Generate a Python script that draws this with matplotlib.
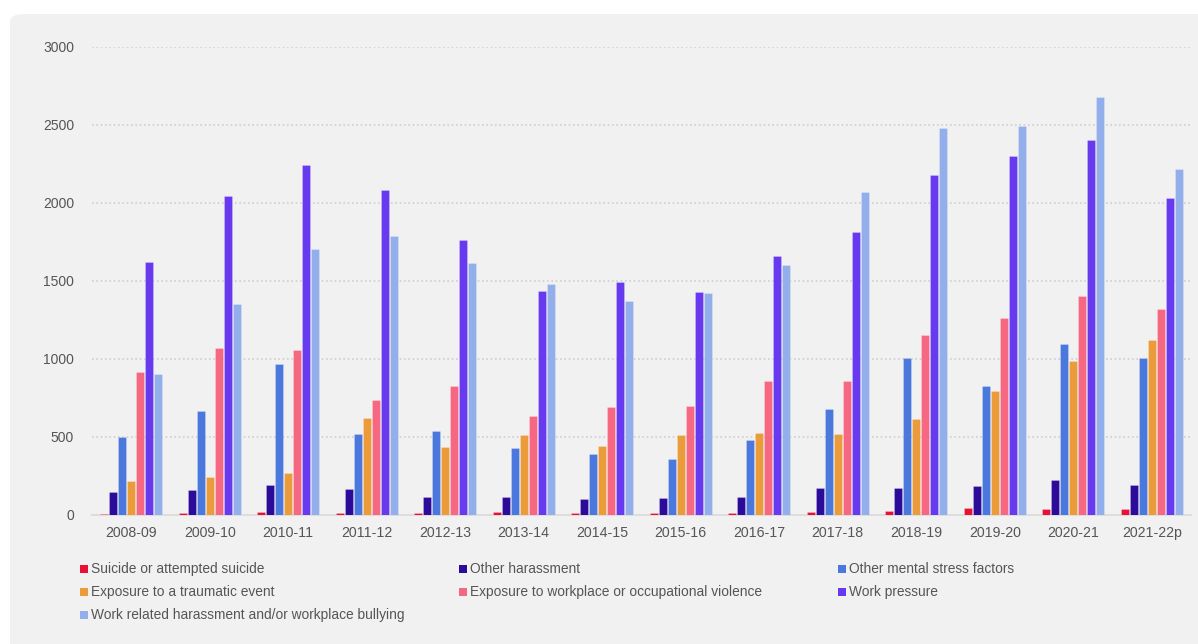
import matplotlib
matplotlib.use("Agg")
import matplotlib.pyplot as plt
import numpy as np
from matplotlib.patches import FancyBboxPatch, Rectangle

# data
years = ['2008-09', '2009-10', '2010-11', '2011-12', '2012-13', '2013-14', '2014-15',
         '2015-16', '2016-17', '2017-18', '2018-19', '2019-20', '2020-21', '2021-22p']

suicide = [5, 12, 19, 12, 12, 22, 15, 15, 15, 20, 25, 45, 38, 38]
other_harassment = [146, 160, 192, 167, 115, 117, 103, 109, 117, 171, 171, 186, 222, 192]
other_mental = [498, 669, 968, 517, 541, 431, 391, 359, 483, 679, 1008, 827, 1096, 1006]
traumatic = [218, 241, 267, 620, 436, 515, 442, 515, 526, 519, 615, 793, 989, 1124]
violence = [919, 1068, 1058, 737, 825, 637, 694, 699, 861, 859, 1152, 1261, 1404, 1320]
work_pressure = [1620, 2047, 2244, 2083, 1763, 1438, 1491, 1429, 1660, 1814, 2179, 2299, 2404, 2032]
bullying = [902, 1353, 1703, 1790, 1615, 1483, 1370, 1423, 1605, 2072, 2479, 2495, 2681, 2216]

series_names = ['Suicide or attempted suicide', 'Other harassment', 'Other mental stress factors',
                'Exposure to a traumatic event', 'Exposure to workplace or occupational violence',
                'Work pressure', 'Work related harassment and/or workplace bullying']
series_values = [suicide, other_harassment, other_mental, traumatic, violence, work_pressure, bullying]
colors = ['#e81035', '#2c0b9b', '#4a78dd', '#eb9b3a', '#f66882', '#673af0', '#93afeb']

W, H = 1198, 644
fig = plt.figure(figsize=(W / 100, H / 100), dpi=100)
fig.patch.set_facecolor('white')

# light grey card behind the chart
card = FancyBboxPatch((10 / W, -0.2), 1.2, 1.2 - 14 / H,
                      boxstyle='round,pad=0,rounding_size=0.012',
                      transform=fig.transFigure, facecolor='#f1f1f1',
                      edgecolor='none', zorder=-5)
fig.patches.append(card)

ax = fig.add_axes([92 / W, 1 - 515 / H, (1191 - 92) / W, (515 - 47) / H])
ax.set_facecolor('none')
ax.set_zorder(2)

n = len(series_values)
x = np.arange(len(years))
slot = 0.8 / n
bw = slot * 0.86
for i, (vals, c) in enumerate(zip(series_values, colors)):
    ax.bar(x - 0.4 + slot * (i + 0.5), vals, width=bw, color=c,
           edgecolor=(1, 1, 1, 0.3), linewidth=0.5, zorder=3)

ax.set_xlim(-0.5, len(years) - 0.5)
ax.set_ylim(0, 3000)
ax.set_yticks(range(0, 3001, 500))
ax.set_xticks(x)
ax.set_xticklabels(years)
ax.tick_params(axis='both', length=0, colors='#555555', labelsize=10)
ax.tick_params(axis='y', pad=13)
ax.tick_params(axis='x', pad=8, labelsize=10.2)
for lab in ax.get_xticklabels() + ax.get_yticklabels():
    lab.set_family('Liberation Sans')

ax.yaxis.grid(True, color='#cfcfcf', linestyle=(0, (1, 1.6)), linewidth=1.2, zorder=1)
ax.set_axisbelow(True)
for s in ['top', 'right', 'left']:
    ax.spines[s].set_visible(False)
ax.spines['bottom'].set_color('#dddddd')
ax.spines['bottom'].set_linewidth(1.5)

# legend: three columns, filled row by row
col_x = [80, 459, 838]
row_y = [569, 592, 615]
for k, (name, c) in enumerate(zip(series_names, colors)):
    cx = col_x[k % 3]
    cy = row_y[k // 3]
    fig.patches.append(Rectangle((cx / W, 1 - (cy + 4) / H), 8 / W, 8 / H,
                                 transform=fig.transFigure, facecolor=c,
                                 edgecolor='none', zorder=2))
    fig.text((cx + 11) / W, 1 - cy / H, name, fontsize=9.9, color='#555555',
             family='Liberation Sans', va='center', ha='left')

fig.savefig('out.png', dpi=100)
